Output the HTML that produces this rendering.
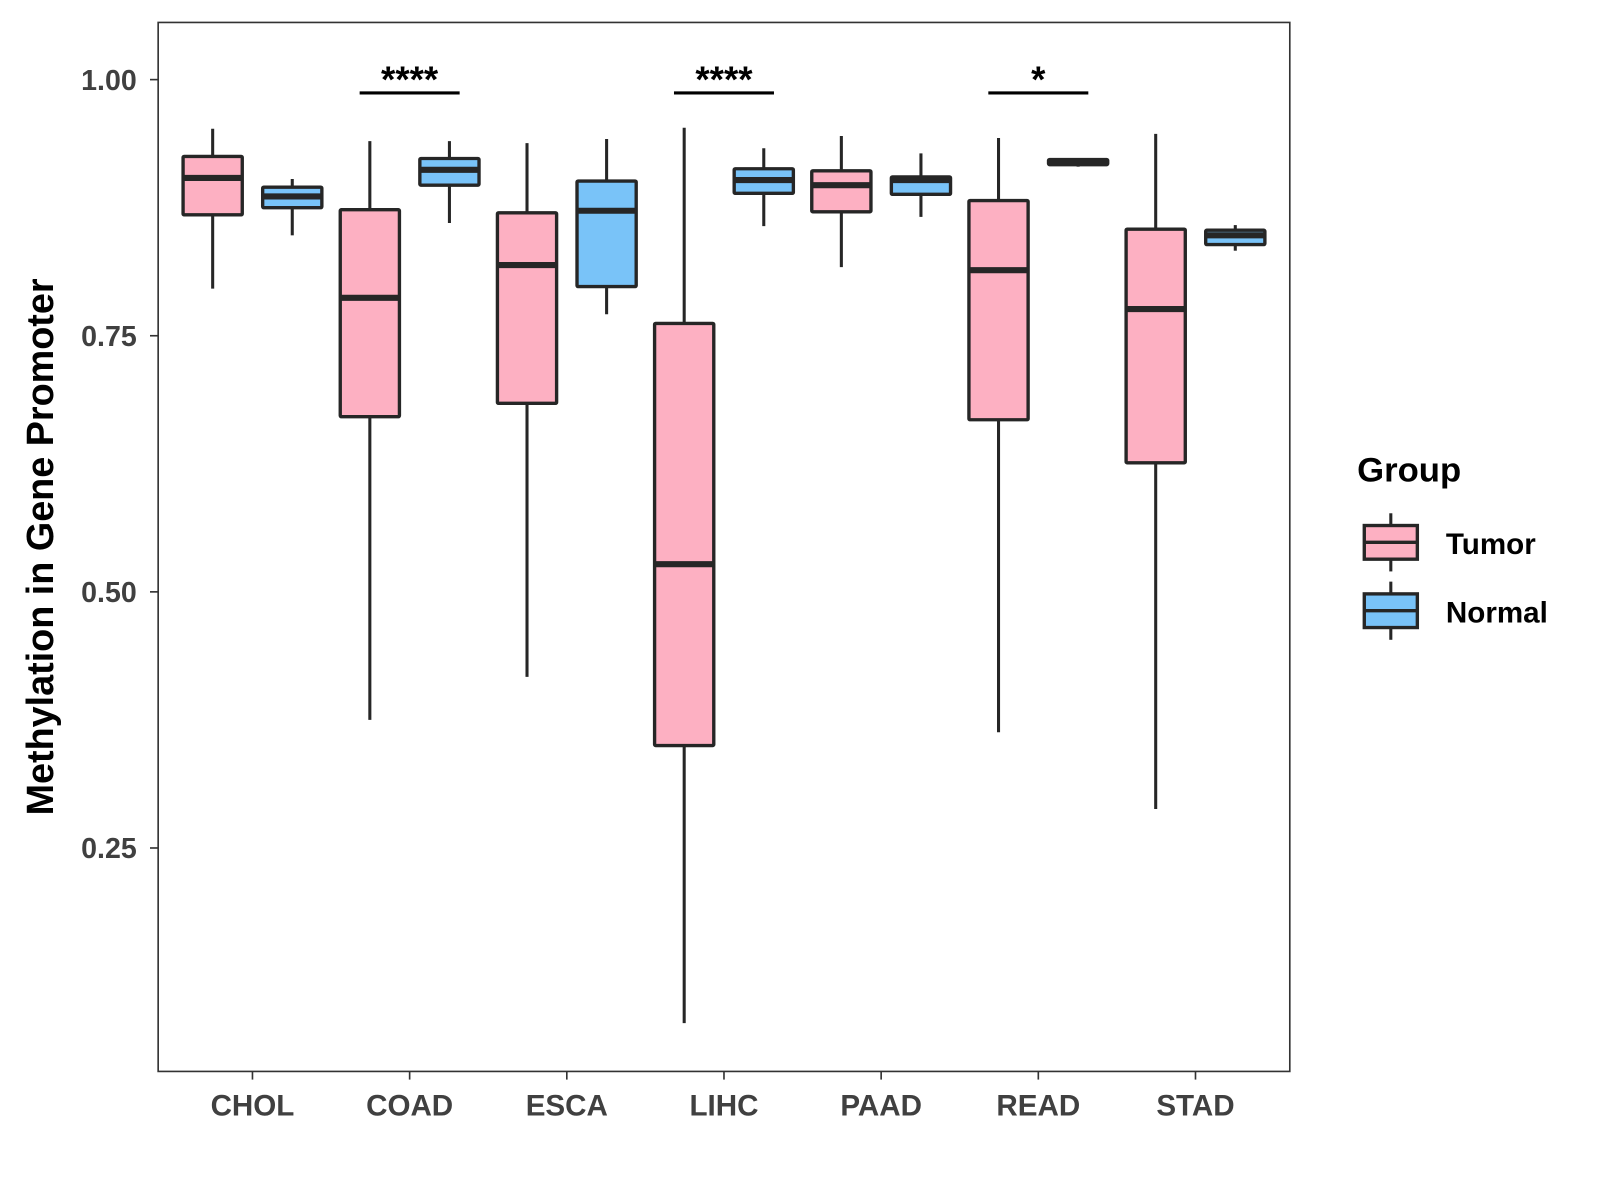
<!DOCTYPE html>
<html><head><meta charset="utf-8"><style>
html,body{margin:0;padding:0;background:#fff;}
svg{display:block;font-family:"Liberation Sans",Arial,sans-serif;}
</style></head><body>
<svg id="chart" width="1600" height="1200" viewBox="0 0 1568 1176" xmlns="http://www.w3.org/2000/svg">
<rect x="0" y="0" width="1568" height="1176" fill="#fff"/>
<g id="marks"></g>
<rect x="155" y="22" width="1109" height="1028" fill="none" stroke="#333" stroke-width="1.6"/>
<g id="axes"></g>
<text transform="translate(52,536) rotate(-90)" text-anchor="middle" font-size="37" font-weight="bold" fill="#000">Methylation in Gene Promoter</text>
<g>
<text x="1330" y="472" font-size="34" font-weight="bold" fill="#000">Group</text>
<g>
<line x1="1363" y1="503" x2="1363" y2="515" stroke="#262626" stroke-width="3"/>
<line x1="1363" y1="548" x2="1363" y2="560" stroke="#262626" stroke-width="3"/>
<rect x="1337" y="515" width="52" height="33" fill="#FDB0C2" stroke="#262626" stroke-width="3.3"/>
<line x1="1337" y1="531.5" x2="1389" y2="531.5" stroke="#262626" stroke-width="3.3"/>
<text x="1417" y="543" font-size="29" font-weight="bold" fill="#000">Tumor</text>
</g>
<g>
<line x1="1363" y1="570" x2="1363" y2="582" stroke="#262626" stroke-width="3"/>
<line x1="1363" y1="615" x2="1363" y2="627" stroke="#262626" stroke-width="3"/>
<rect x="1337" y="582" width="52" height="33" fill="#79C3F8" stroke="#262626" stroke-width="3.3"/>
<line x1="1337" y1="598.5" x2="1389" y2="598.5" stroke="#262626" stroke-width="3.3"/>
<text x="1417" y="610" font-size="29" font-weight="bold" fill="#000">Normal</text>
</g>
</g>
</svg>
<script>
const categories = ["CHOL","COAD","ESCA","LIHC","PAAD","READ","STAD"];
// [lowerWhisker, q1, median, q3, upperWhisker]
const tumorStats = [
 [0.796,0.868,0.904,0.925,0.952],
 [0.375,0.671,0.787,0.873,0.940],
 [0.417,0.684,0.819,0.870,0.938],
 [0.079,0.350,0.527,0.762,0.953],
 [0.817,0.871,0.897,0.911,0.945],
 [0.363,0.668,0.814,0.882,0.943],
 [0.288,0.626,0.776,0.854,0.947]
];
const normalStats = [
 [0.848,0.875,0.886,0.895,0.903],
 [0.860,0.897,0.912,0.923,0.940],
 [0.771,0.798,0.872,0.901,0.942],
 [0.857,0.889,0.902,0.913,0.933],
 [0.866,0.888,0.902,0.905,0.928],
 [0.915,0.917,0.920,0.922,0.923],
 [0.833,0.839,0.848,0.853,0.858]
];
const yTicks = [0.25,0.50,0.75,1.00];
const yTickLabels = ["0.25","0.50","0.75","1.00"];
const sigCategories = ["COAD","LIHC","READ"];
const sigLabels = ["****","****","*"];
const sigY = [0.987,0.987,0.987];

const NS="http://www.w3.org/2000/svg";
const yMin=0.0319,yMax=1.0558,pTop=22,pBottom=1050,pLeft=155,pRight=1264;
function yScale(v){return pBottom-(v-yMin)/(yMax-yMin)*(pBottom-pTop);}
const step=(pRight-pLeft)/(categories.length+0.2);
function xScale(i){return pLeft+step*(i+0.6);}
function mk(tag,attrs,parent){const e=document.createElementNS(NS,tag);for(const k in attrs)e.setAttribute(k,attrs[k]);parent.appendChild(e);return e;}
const marks=document.getElementById('marks'),axes=document.getElementById('axes');
const half=29,off=39,ink="#262626";
function box(s,cx,fill,name){
 const g=mk('g',{},marks);
 
 
 mk('line',{x1:cx,x2:cx,y1:yScale(s[4]),y2:yScale(s[0]),stroke:ink,'stroke-width':3},g);
 mk('rect',{x:cx-half,y:yScale(s[3]),width:2*half,height:Math.max(yScale(s[1])-yScale(s[3]),0.5),fill:fill,stroke:ink,'stroke-width':3.3,rx:1},g);
 mk('line',{x1:cx-half,x2:cx+half,y1:yScale(s[2]),y2:yScale(s[2]),stroke:ink,'stroke-width':6},g);
}
categories.forEach((c,i)=>{
 box(tumorStats[i],xScale(i)-off,"#FDB0C2","box-tumor-"+c.toLowerCase());
 box(normalStats[i],xScale(i)+off,"#79C3F8","box-normal-"+c.toLowerCase());
 const t=mk('line',{x1:xScale(i),x2:xScale(i),y1:pBottom,y2:pBottom+8,stroke:"#333",'stroke-width':1.6},axes);
 
 
 const l=mk('text',{x:xScale(i),y:pBottom+43,'text-anchor':'middle','font-size':29,'font-weight':'bold',fill:'#404040'},axes);
 l.textContent=c;
 
 
});
yTicks.forEach((v,i)=>{
 const t=mk('line',{x1:pLeft-8,x2:pLeft,y1:yScale(v),y2:yScale(v),stroke:"#333",'stroke-width':1.6},axes);
 
 
 const l=mk('text',{x:pLeft-21,y:yScale(v)+10,'text-anchor':'end','font-size':28,'font-weight':'bold',fill:'#404040'},axes);
 l.textContent=yTickLabels[i];
 
 
});
sigCategories.forEach((c,k)=>{
 const i=categories.indexOf(c);
 const g=mk('g',{},marks);
 
 
 mk('line',{x1:xScale(i)-off-10,x2:xScale(i)+off+10,y1:yScale(sigY[k]),y2:yScale(sigY[k]),stroke:'#000','stroke-width':3},g);
 const t=mk('text',{x:xScale(i),y:yScale(sigY[k])-1,'text-anchor':'middle','font-size':36,'font-weight':'bold',fill:'#000'},g);
 t.textContent=sigLabels[k];
});
</script>
</body></html>
